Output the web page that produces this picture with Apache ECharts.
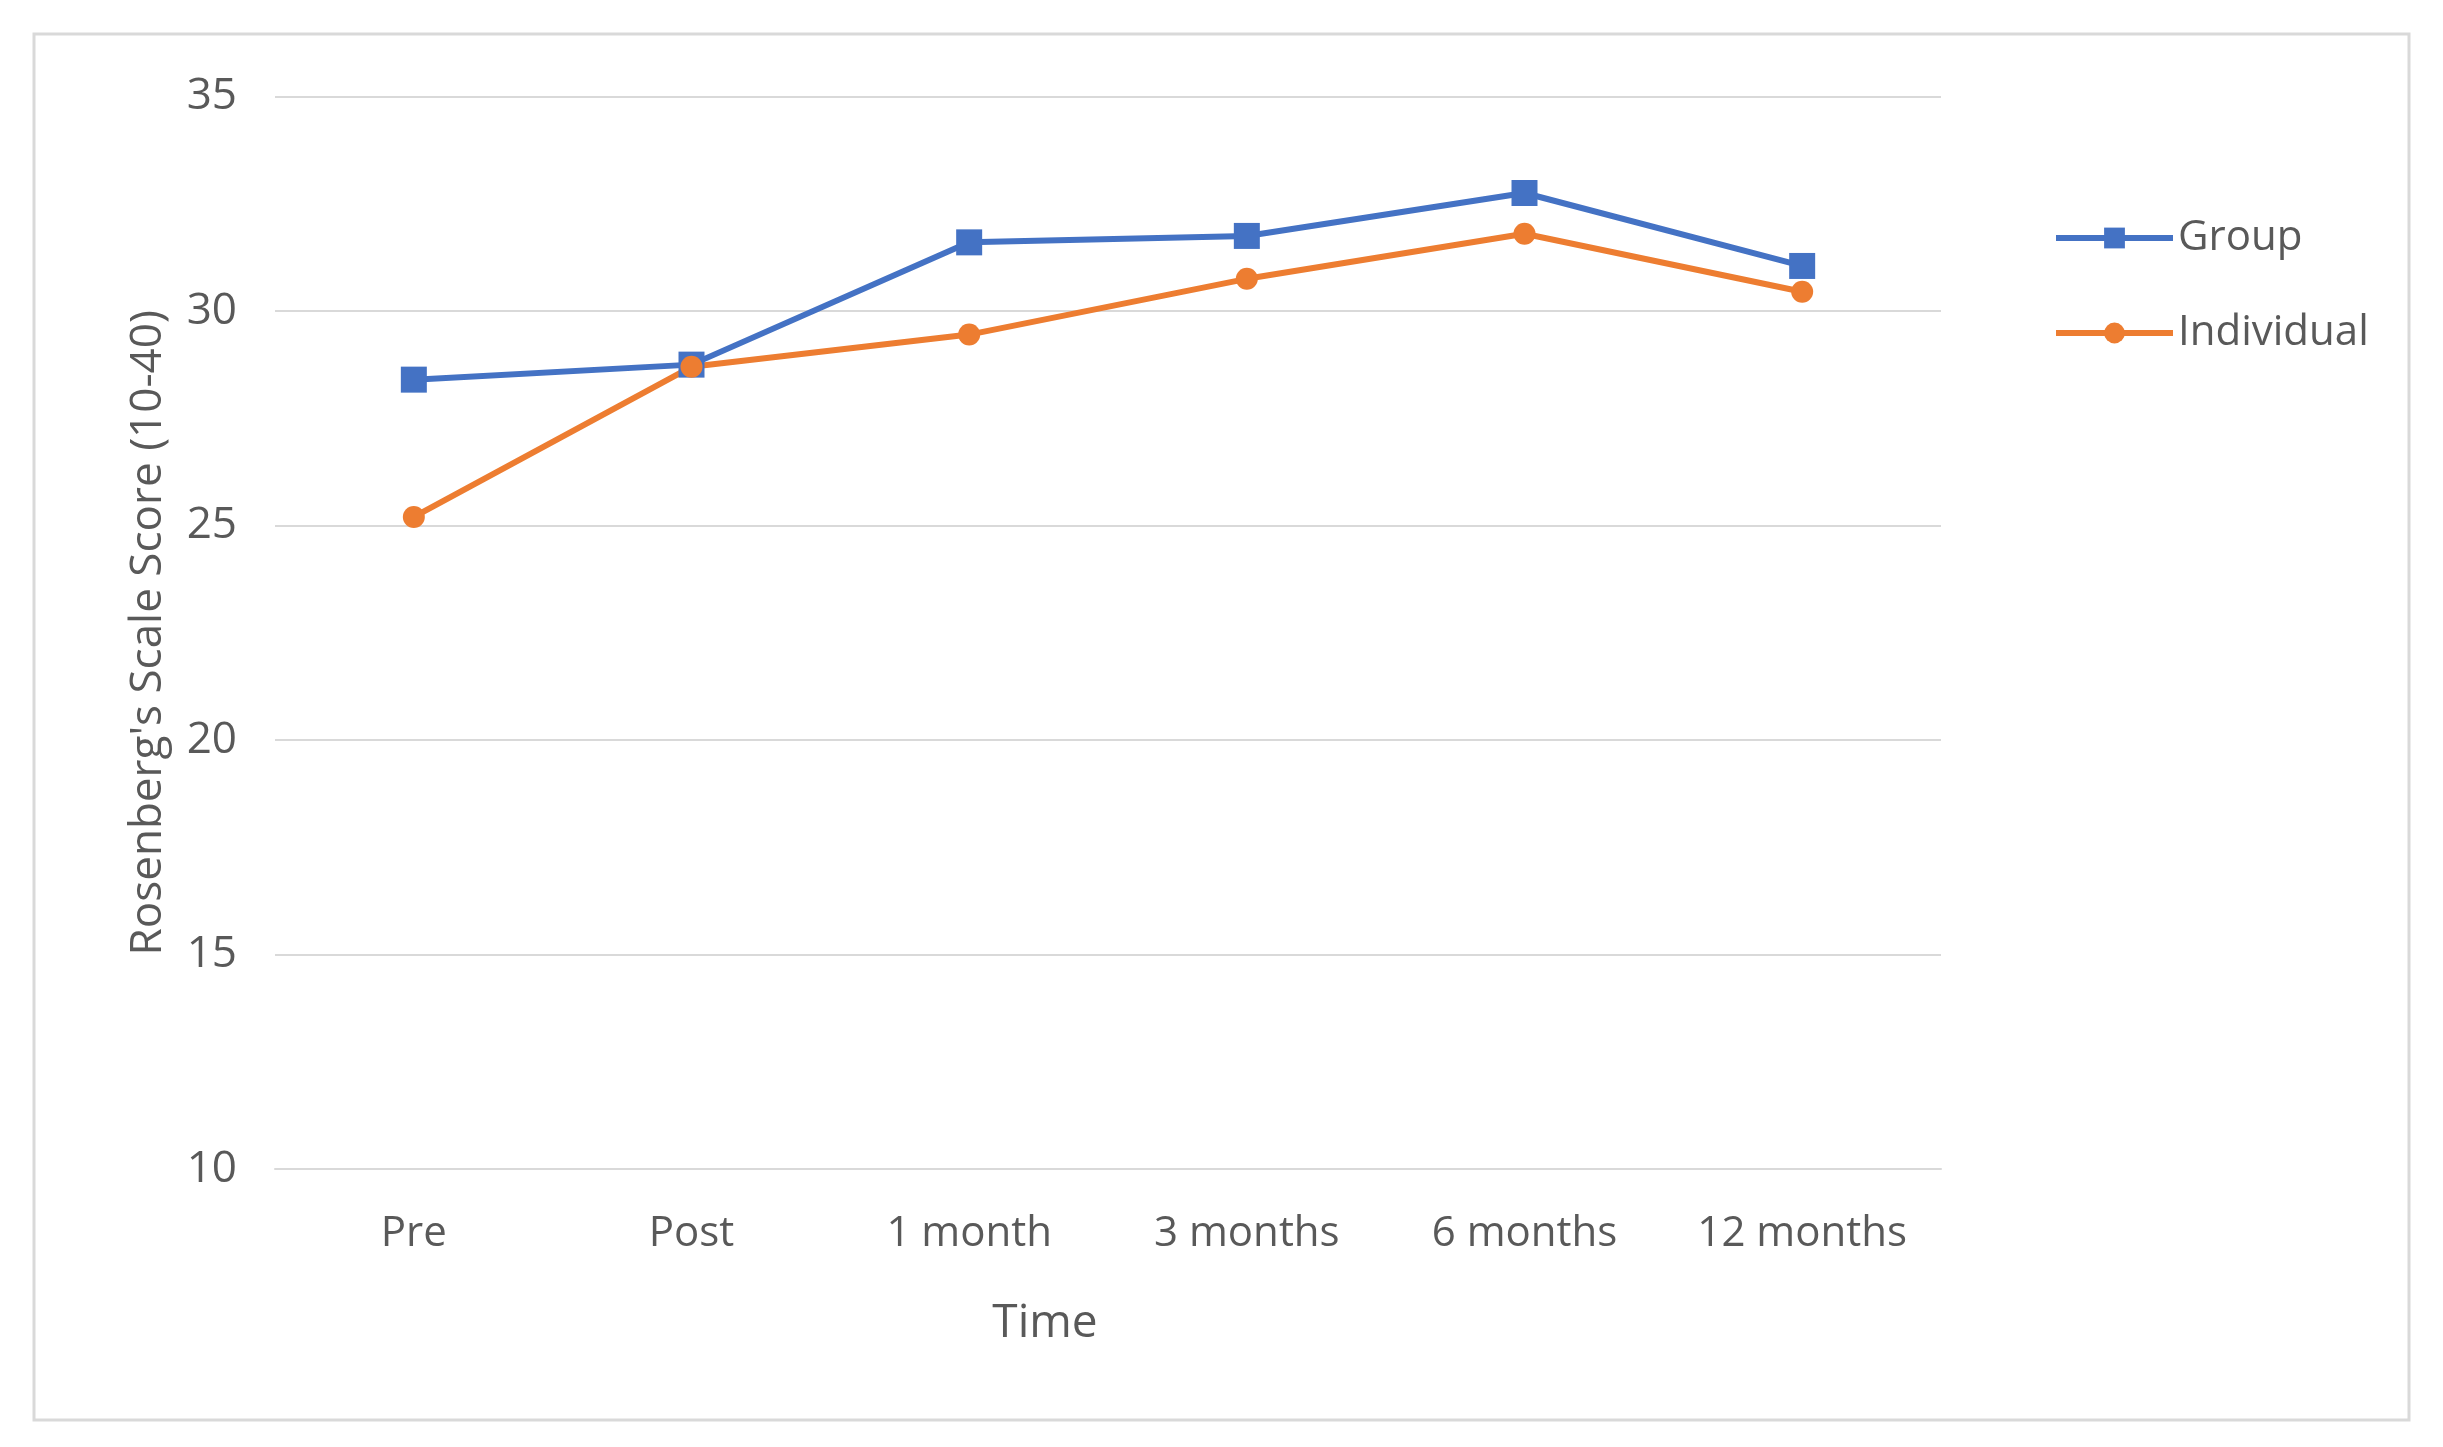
<!DOCTYPE html>
<html>
<head>
<meta charset="utf-8">
<script src="https://cdn.jsdelivr.net/npm/echarts@6/dist/echarts.min.js"></script>
<style>
html,body{margin:0;padding:0;background:#fff;}
#c{width:2443px;height:1447px;}
</style>
</head>
<body>
<div id="c"></div>
<script>
const categories = ["Pre", "Post", "1 month", "3 months", "6 months", "12 months"];
const groupValues = [28.4, 28.75, 31.6, 31.75, 32.75, 31.05];
const individualValues = [25.2, 28.7, 29.45, 30.75, 31.8, 30.45];
const seriesNames = ["Group", "Individual"];
const yTitle = "Rosenberg's Scale Score (10-40)";
const xTitle = "Time";

const FONT = "Open Sans";
const TXT = "#595959";
const chart = echarts.init(document.getElementById('c'), null, {renderer: 'canvas'});
chart.setOption({
  animation: false,
  backgroundColor: '#fff',
  graphic: [{
    type: 'rect',
    shape: {x: 34, y: 34, width: 2375, height: 1386},
    style: {fill: 'none', stroke: '#d9d9d9', lineWidth: 3},
    silent: true, z: -1
  }],
  grid: {left: 275, right: 502, top: 96.5, bottom: 278},
  legend: {
    orient: 'vertical',
    left: 2048,
    top: 208,
    itemWidth: 117,
    itemHeight: 26,
    itemGap: 45,
    lineStyle: {width: 6},
    textStyle: {fontFamily: FONT, fontSize: 42, color: TXT, lineHeight: 50},
    data: seriesNames
  },
  xAxis: {
    type: 'category',
    data: categories,
    boundaryGap: true,
    axisLine: {show: true, lineStyle: {color: '#d9d9d9', width: 2}},
    axisTick: {show: false},
    axisLabel: {fontFamily: FONT, fontSize: 42, color: TXT, margin: 44, interval: 0, hideOverlap: false},
    name: xTitle,
    nameLocation: 'middle',
    nameGap: 132,
    nameTextStyle: {fontFamily: FONT, fontSize: 46, color: TXT, padding: [0, 126, 0, 0]}
  },
  yAxis: {
    type: 'value',
    min: 10, max: 35, interval: 5,
    axisLine: {show: false},
    axisTick: {show: false},
    splitLine: {lineStyle: {color: '#d9d9d9', width: 2}},
    axisLabel: {fontFamily: FONT, fontSize: 44, color: TXT, margin: 38},
    name: yTitle,
    nameLocation: 'middle',
    nameGap: 105,
    nameRotate: 90,
    nameTextStyle: {fontFamily: FONT, fontSize: 44, color: TXT}
  },
  series: [
    {
      name: seriesNames[0], type: 'line', data: groupValues,
      symbol: 'rect', symbolSize: 26,
      itemStyle: {color: '#4472C4'},
      lineStyle: {color: '#4472C4', width: 6}
    },
    {
      name: seriesNames[1], type: 'line', data: individualValues,
      symbol: 'circle', symbolSize: 22,
      itemStyle: {color: '#ED7D31'},
      lineStyle: {color: '#ED7D31', width: 6}
    }
  ]
});
</script>
</body>
</html>
